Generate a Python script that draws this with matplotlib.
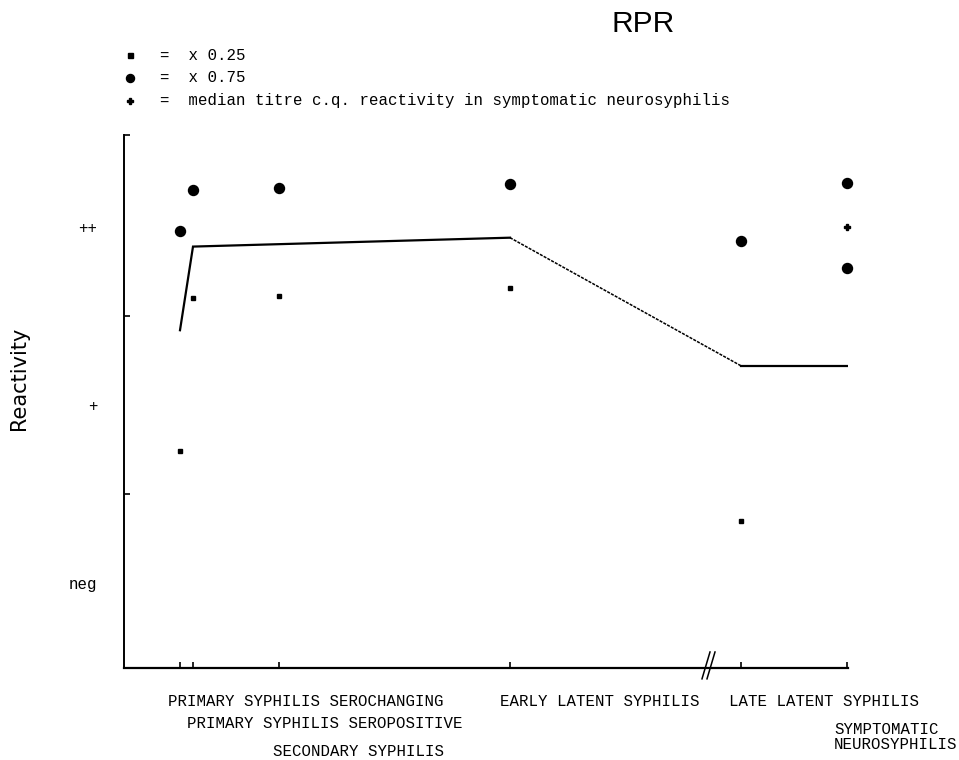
import numpy as np
import matplotlib
matplotlib.use('Agg')
import matplotlib.pyplot as plt

W, H = 959, 760
MONO = 'Liberation Mono'

# stages along the x axis (left to right)
stages = ['PRIMARY SYPHILIS SEROCHANGING', 'PRIMARY SYPHILIS SEROPOSITIVE',
          'SECONDARY SYPHILIS', 'EARLY LATENT SYPHILIS', 'LATE LATENT SYPHILIS',
          'SYMPTOMATIC\nNEUROSYPHILIS']
stage_x = [56, 69, 155, 386, 617, 723]

# reactivity scale: neg = 0, + = 1, ++ = 2
ylabels = ['neg', '+', '++']
yvals = [0, 1, 2]

# x 0.75 quantile (circles)
q75_stage = [0, 1, 2, 3, 4, 5, 5]
q75 = [1.98, 2.21, 2.22, 2.24, 1.92, 2.25, 1.77]

# x 0.25 quantile (squares)
q25_stage = [0, 1, 2, 3, 4]
q25 = [0.74, 1.60, 1.61, 1.66, 0.35]

# median line
med_stage = [0, 1, 3, 4, 5]
med = [1.42, 1.89, 1.94, 1.22, 1.22]

# median titre in symptomatic neurosyphilis
neuro_stage = [5]
neuro = [2.0]

fig = plt.figure(figsize=(W / 100, H / 100), dpi=100)
ax = fig.add_axes([124 / W, 1 - 668 / H, (848 - 124) / W, (668 - 135) / H])
ax.set_xlim(0, 724)
ax.set_ylim(-0.478, 2.517)

mx = np.array(stage_x)[med_stage]
my = np.array(med)
ax.plot(mx[:3], my[:3], color='black', lw=1.6, solid_joinstyle='miter')
ax.plot(mx[2:4], my[2:4], color='black', lw=1.1, ls=(0, (2, 0.8)))
ax.plot(mx[3:], my[3:], color='black', lw=1.6)

ax.plot(np.array(stage_x)[q75_stage], q75, 'o', color='black', ms=7.2, ls='none', clip_on=False)
ax.plot(np.array(stage_x)[q25_stage], q25, 's', color='black', ms=3.4, ls='none', clip_on=False)
ax.plot(np.array(stage_x)[neuro_stage], neuro, 'P', color='black', ms=4.5, ls='none', clip_on=False)

# axes styling
for s in ['top', 'right']:
    ax.spines[s].set_visible(False)
ax.spines['left'].set_linewidth(1.4)
ax.spines['bottom'].set_linewidth(1.6)

ax.set_yticks(yvals)
ax.set_yticklabels(ylabels, fontfamily=MONO, fontsize=11.3)
ax.tick_params(axis='y', which='major', length=0, pad=19)
ax.set_yticks([0.5, 1.5, 2.517], minor=True)
ax.tick_params(axis='y', which='minor', direction='in', length=4, width=1.2)

ax.set_xticks(stage_x)
ax.set_xticklabels([])
ax.tick_params(axis='x', which='major', direction='in', length=4, width=1.2)

# axis break
for dx in [0, 5]:
    ax.plot([578 + dx, 586 + dx], [-0.539, -0.388], color='black', lw=1.1, clip_on=False)

fig.text(19 / W, 1 - 378 / H, 'Reactivity', fontsize=15, fontfamily='DejaVu Sans',
         rotation=90, ha='center', va='center')

# stage labels under the axis
label_pos = [(168, 701), (187, 724), (273, 751), (500, 701), (729, 701), (834, 737)]
for name, (px, py) in zip(stages, label_pos):
    fig.text(px / W, 1 - py / H, name, fontfamily=MONO, fontsize=11.3,
             ha='left', va='center', linespacing=0.95)

# title
fig.text(643 / W, 1 - 24 / H, 'RPR', fontfamily='Liberation Sans', fontsize=21.5,
         ha='center', va='center')

# key
key_marks = ['s', 'o', 'P']
key_ms = [3.6, 5.8, 3.8]
key_text = ['=  x 0.25', '=  x 0.75',
            '=  median titre c.q. reactivity in symptomatic neurosyphilis']
for i, (m, ms, t) in enumerate(zip(key_marks, key_ms, key_text)):
    py = 55 + 23 * i
    fig.add_artist(plt.Line2D([130 / W], [1 - py / H], marker=m, ms=ms,
                              color='black', ls='none', transform=fig.transFigure))
    fig.text(160 / W, 1 - py / H, t, fontfamily=MONO, fontsize=11.3,
             ha='left', va='center')

fig.savefig('out.png', dpi=100)
